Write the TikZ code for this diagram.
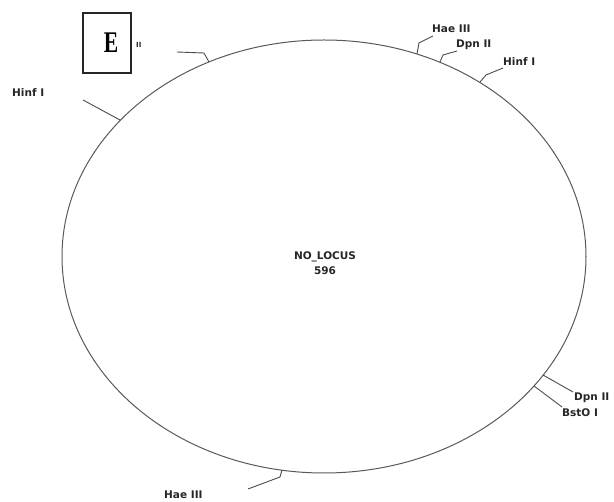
\documentclass[tikz,border=0pt]{standalone}
\usepackage{fontspec}
\newfontfamily\labfont{DejaVu Sans}
\newfontfamily\efont{Liberation Serif}
\begin{document}
\begin{tikzpicture}[x=1pt,y=-1pt,
  lab/.style={font=\labfont\bfseries\fontsize{10.5}{12}\selectfont, inner sep=0pt, anchor=west, text=black!85},
  tick/.style={draw=black!70, line width=0.9pt},
  circ/.style={draw=black!65, line width=1pt}]
\useasboundingbox (0,0) rectangle (614,502);
% plasmid circle
\coordinate (c) at (324,256.5);
\draw[circ] (c) ellipse [x radius=262pt, y radius=216.5pt];
\node[lab] (name) at (325,257) [anchor=center] {NO\_LOCUS};
\node[lab] (len) at (325,271) [anchor=center] {596};
% site points on the circle
\coordinate (p1) at (209,62);
\coordinate (p2) at (120,120);
\coordinate (p3) at (417,54);
\coordinate (p4) at (440,62);
\coordinate (p5) at (480,82);
\coordinate (p6) at (543,375);
\coordinate (p7) at (534,386);
\coordinate (p8) at (282,470);
% bends and ends
\coordinate (b1) at (204,53);  \coordinate (e1) at (177,52);
\coordinate (e2) at (83,100);
\coordinate (b3) at (419,43);  \coordinate (e3) at (433,36);
\coordinate (b4) at (443,55);  \coordinate (e4) at (457,51);
\coordinate (b5) at (486,75);  \coordinate (e5) at (503,68);
\coordinate (e6) at (573,392);
\coordinate (e7) at (562,407);
\coordinate (b8) at (280,477); \coordinate (e8) at (248,489);
\draw[tick] (p1) -- (b1) -- (e1);
\draw[tick] (p2) -- (e2);
\draw[tick] (p3) -- (b3) -- (e3);
\draw[tick] (p4) -- (b4) -- (e4);
\draw[tick] (p5) -- (b5) -- (e5);
\draw[tick] (p6) -- (e6);
\draw[tick] (p7) -- (e7);
\draw[tick] (p8) -- (b8) -- (e8);
% labels
\node[lab,font=\labfont\bfseries\fontsize{7}{8}\selectfont] (l1) at (136,45) {II};
\node[lab] (l2) at (12,93) {Hinf I};
\node[lab] (l3) at (432,29) {Hae III};
\node[lab] (l4) at (456,45) {Dpn II};
\node[lab] (l5) at (503,62) {Hinf I};
\node[lab] (l6) at (574,398) {Dpn II};
\node[lab] (l7) at (562,413) {BstO I};
\node[lab] (l8) at (164,495) {Hae III};
% panel letter
\node[draw=black!85, line width=1.2pt, fill=white, minimum width=48pt, minimum height=60pt, inner sep=0pt] (ebox) at (107,43) {};
\node[inner sep=0pt, font=\efont\bfseries\fontsize{30}{30}\selectfont] (eletter) at (111,43) {\scalebox{0.72}[1]{E}};
\end{tikzpicture}
\end{document}
